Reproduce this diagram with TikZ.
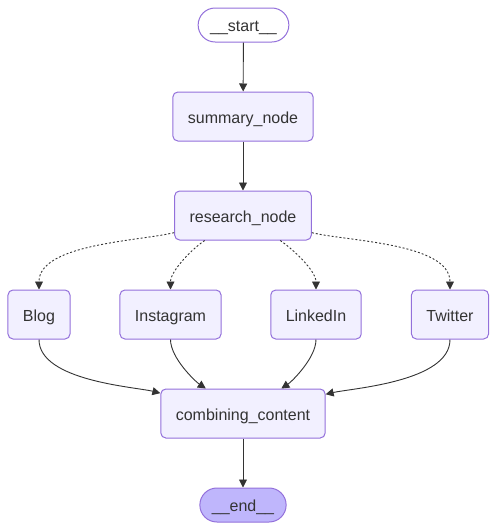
\documentclass[tikz,border=0pt]{standalone}
\usepackage{fontspec}
\setmainfont{Liberation Sans}
\usetikzlibrary{arrows.meta}
\definecolor{nodefill}{HTML}{F2F0FF}
\definecolor{nodeborder}{HTML}{9370DB}
\definecolor{endfill}{HTML}{BFB6FC}
\definecolor{linecol}{HTML}{333333}
\definecolor{txt}{HTML}{333333}
\tikzset{
  x=1pt,y=1pt,
  box/.style={draw=nodeborder, fill=nodefill, line width=1pt, rounded corners=5pt,
    inner xsep=15pt, inner ysep=0pt, minimum height=49pt, text=txt,
    text height=14pt, text depth=1pt,
    font=\fontsize{16}{19}\selectfont},
  pill/.style={draw=nodeborder, line width=1pt, rounded corners=17pt,
    inner xsep=12pt, inner ysep=0pt, minimum height=34pt, text=txt,
    text height=14pt, text depth=1pt,
    font=\fontsize{16}{19}\selectfont},
  edge/.style={draw=linecol, line width=0.9pt, -{Triangle[length=8pt,width=8pt]}},
  dotedge/.style={edge, dash pattern=on 2pt off 2pt},
  fanout/.style={out looseness=0.6, in looseness=0.8},
  fanin/.style={out looseness=0.8, in looseness=0.5},
}
\begin{document}
\begin{tikzpicture}
\useasboundingbox (0,0) rectangle (497,-531);
\node[pill, fill=white] (start) at (243.5,-25) {\_\_start\_\_};
\node[box] (summary) at (243,-116.5) {summary\_node};
\node[box] (research) at (243,-215.5) {research\_node};
\node[box] (blog) at (39,-314.5) {Blog};
\node[box] (insta) at (170.5,-314.5) {Instagram};
\node[box] (linked) at (316,-314.5) {LinkedIn};
\node[box] (twitter) at (450,-314.5) {Twitter};
\node[box] (comb) at (243,-413.5) {combining\_content};
\node[pill, fill=endfill] (end) at (243,-505) {\_\_end\_\_};

\draw[edge] (start) -- (summary);
\draw[edge] (summary) -- (research);
\draw[dotedge] (research) to[out=194,in=90,fanout] (blog);
\draw[dotedge] (research) to[out=213.5,in=90,fanout] (insta);
\draw[dotedge] (research) to[out=326.5,in=90,fanout] (linked);
\draw[dotedge] (research) to[out=346,in=90,fanout] (twitter);
\draw[edge] (blog) to[out=-90,in=166.6,fanin] (comb);
\draw[edge] (insta) to[out=-90,in=146.5,fanin] (comb);
\draw[edge] (linked) to[out=-90,in=33.5,fanin] (comb);
\draw[edge] (twitter) to[out=-90,in=13.4,fanin] (comb);
\draw[edge] (comb) -- (end);
\end{tikzpicture}
\end{document}
